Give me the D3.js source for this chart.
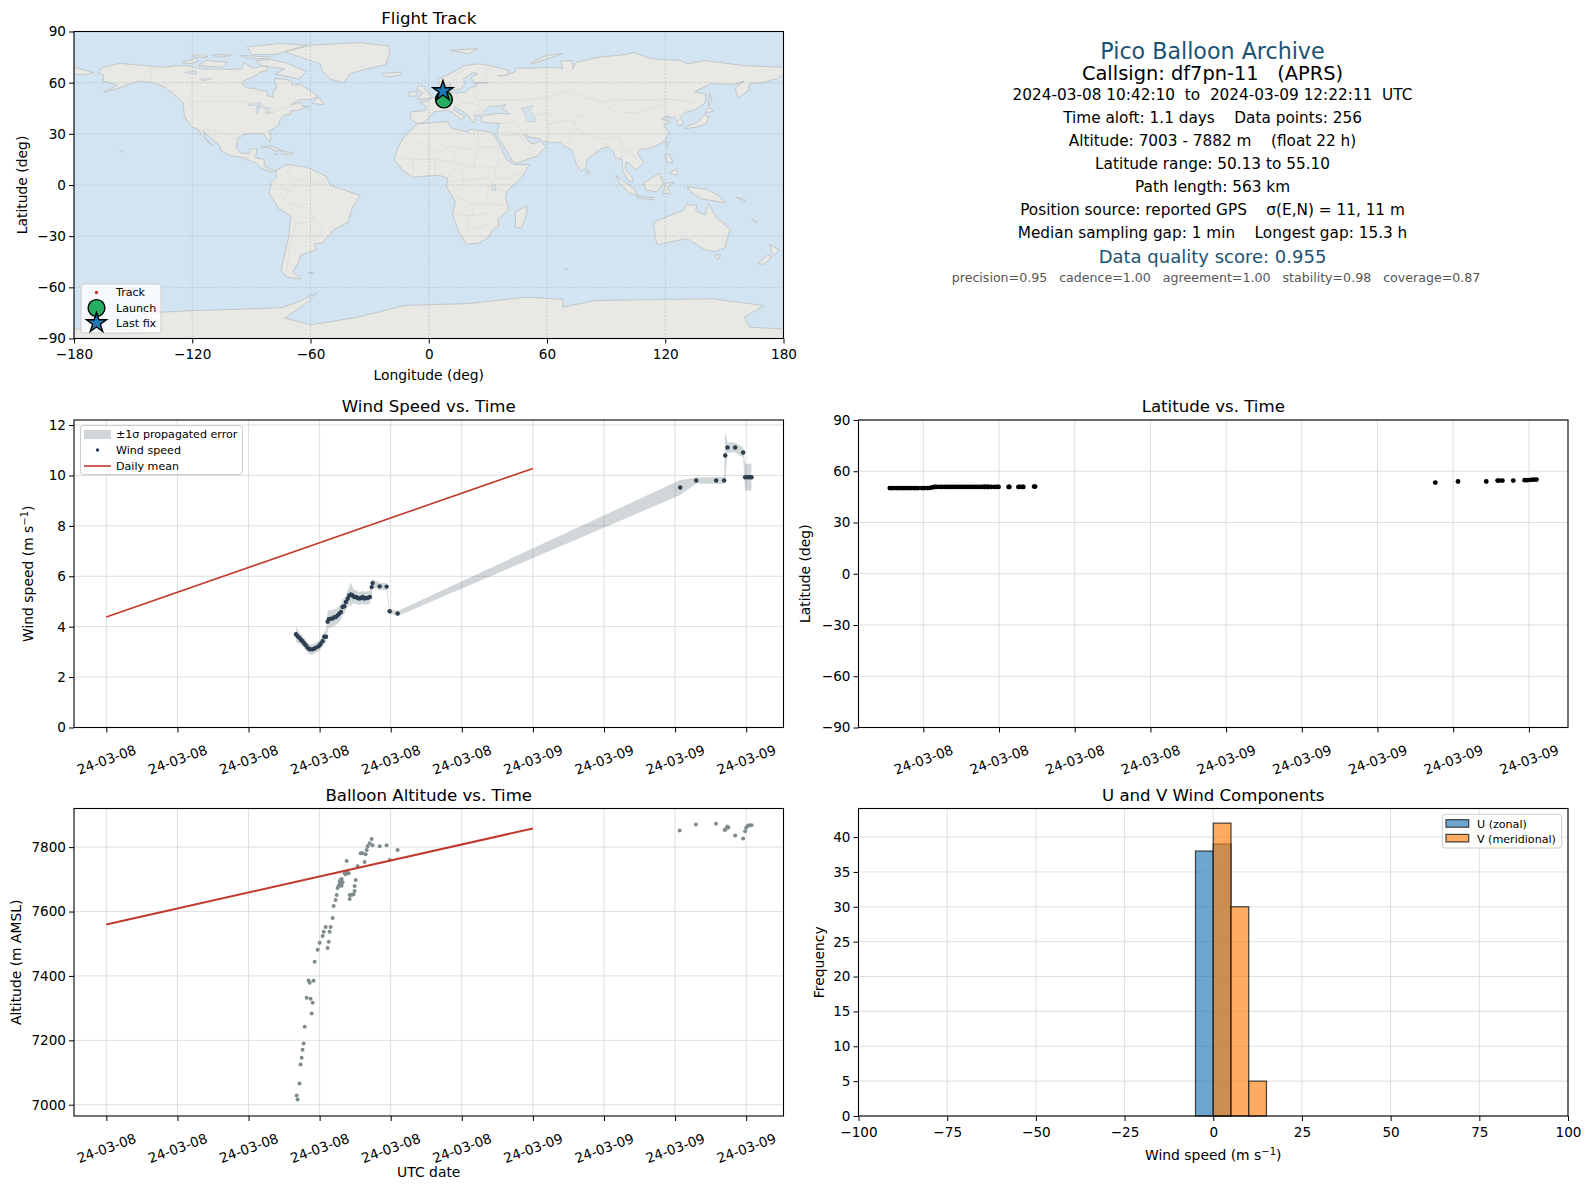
<!DOCTYPE html>
<html>

<head>
    <meta charset="utf-8">
    <title>Pico Balloon Archive</title>
    <style>
        body { margin: 0; background: #fff; }
        text { font-family: "DejaVu Sans", sans-serif; fill: #000; white-space: pre; }
    </style>
    <script src="https://d3js.org/d3.v7.min.js"></script>
</head>

<body>
</body>
<script>
// hours since 2024-03-08 00:00 UTC
var fixHours = [10.67, 10.76, 10.86, 10.95, 11.04, 11.14, 11.23, 11.32, 11.42, 11.51, 11.61, 11.70, 11.79, 11.94, 12.04, 12.17, 12.26, 12.36, 12.45, 12.51, 12.64, 12.73, 12.83, 12.92, 13.01, 13.11, 13.20, 13.29, 13.39, 13.48, 13.58, 13.67, 13.76, 13.86, 13.95, 14.05, 14.14, 14.23, 14.33, 14.42, 14.51, 14.61, 14.70, 14.83, 14.93, 14.98, 15.38, 15.77, 15.94, 16.39, 32.29, 33.19, 34.31, 34.76, 34.82, 34.95, 35.38, 35.83, 35.94, 36.08, 36.19, 36.30];
var windSpeed = [3.70, 3.62, 3.56, 3.48, 3.42, 3.33, 3.26, 3.17, 3.11, 3.10, 3.10, 3.13, 3.17, 3.22, 3.30, 3.42, 3.60, 3.60, 4.20, 4.30, 4.32, 4.32, 4.38, 4.38, 4.45, 4.52, 4.58, 4.78, 4.81, 4.98, 5.11, 5.24, 5.28, 5.24, 5.18, 5.18, 5.14, 5.12, 5.14, 5.18, 5.12, 5.14, 5.14, 5.18, 5.57, 5.73, 5.60, 5.59, 4.61, 4.52, 9.52, 9.80, 9.80, 9.80, 10.79, 11.11, 11.11, 10.91, 9.93, 9.93, 9.93, 9.93];
var windError = [0.32, 0.26, 0.24, 0.22, 0.21, 0.2, 0.2, 0.2, 0.2, 0.2, 0.2, 0.2, 0.2, 0.2, 0.2, 0.22, 0.22, 0.22, 0.40, 0.35, 0.34, 0.34, 0.33, 0.33, 0.32, 0.32, 0.31, 0.31, 0.31, 0.31, 0.32, 0.35, 0.48, 0.32, 0.28, 0.27, 0.27, 0.26, 0.26, 0.26, 0.26, 0.26, 0.26, 0.26, 0.26, 0.16, 0.14, 0.14, 0.1, 0.1, 0.30, 0.12, 0.13, 0.14, 0.98, 0.20, 0.20, 0.20, 0.53, 0.53, 0.53, 0.53];
var latitude = [50.13, 50.13, 50.13, 50.13, 50.13, 50.13, 50.13, 50.13, 50.13, 50.13, 50.13, 50.14, 50.15, 50.15, 50.15, 50.15, 50.3, 50.55, 50.8, 50.8, 50.8, 50.8, 50.8, 50.8, 50.8, 50.85, 50.85, 50.85, 50.85, 50.85, 50.85, 50.85, 50.85, 50.85, 50.85, 50.85, 50.85, 50.85, 50.85, 50.85, 50.85, 50.85, 50.85, 50.85, 50.85, 50.85, 50.85, 50.85, 50.85, 51.05, 53.4, 54.0, 54.0, 54.55, 54.55, 54.55, 54.55, 54.75, 54.75, 55.0, 55.05, 55.10];
var extraLatHours = [14.42, 14.55, 15.41, 15.83, 15.96, 16.43];
var extraLat = [50.85, 50.85, 50.85, 50.85, 50.85, 51.05];

var altHours = [10.71, 10.76, 10.87, 10.93, 10.99, 11.04, 11.10, 11.16, 11.55, 11.61, 11.49, 11.27, 11.38, 11.44, 11.66, 11.72, 11.89, 12.00, 12.17, 12.23, 12.34, 12.62, 12.56, 12.51, 12.45, 12.73, 12.79, 12.90, 12.96, 13.01, 13.07, 13.13, 13.13, 13.18, 13.24, 13.18, 13.29, 13.24, 13.41, 13.46, 13.52, 13.63, 13.52, 13.69, 13.69, 13.80, 13.91, 13.97, 13.97, 14.03, 14.14, 14.31, 14.42, 14.53, 14.59, 14.65, 14.70, 14.81, 14.93, 14.98, 15.38, 15.77, 15.94, 16.39, 32.26, 33.17, 34.30, 34.79, 34.85, 34.94, 35.00, 35.38, 35.83, 35.94, 36.00, 36.08, 36.17, 36.30];
var altitude = [7029, 7016, 7066, 7125, 7146, 7171, 7190, 7242, 7283, 7317, 7329, 7332, 7386, 7379, 7385, 7444, 7481, 7503, 7524, 7537, 7552, 7552, 7537, 7506, 7487, 7580, 7617, 7636, 7651, 7673, 7679, 7685, 7694, 7698, 7701, 7683, 7691, 7680, 7719, 7716, 7724, 7719, 7757, 7639, 7651, 7651, 7654, 7664, 7679, 7698, 7741, 7781, 7781, 7754, 7778, 7791, 7803, 7812, 7825, 7806, 7803, 7806, 7760, 7791, 7852, 7870, 7873, 7853, 7856, 7864, 7861, 7836, 7827, 7849, 7860, 7866, 7868, 7868];

var meanHours = [0, 24];
var meanWind = [4.38, 10.28];
var meanAlt = [7560, 7858];

var histBinStart = [-5, 0, 5, 10];
var histBinWidth = 5;
var histU = [38, 39, 0, 0];
var histV = [0, 42, 30, 5];

var trackLon = [7.7, 7.6, 7.4, 7.2];
var trackLat = [50.13, 50.85, 54.0, 55.10];

var wideTickHours = [0, 4, 8, 12, 16, 20, 24, 28, 32, 36];
var latTickHours = [12, 15, 18, 21, 24, 27, 30, 33, 36];
var lonTicks = [-180, -120, -60, 0, 60, 120, 180];
var latTicks = [-90, -60, -30, 0, 30, 60, 90];

var infoLines = [
    "2024-03-08 10:42:10  to  2024-03-09 12:22:11  UTC",
    "Time aloft: 1.1 days    Data points: 256",
    "Altitude: 7003 - 7882 m    (float 22 h)",
    "Latitude range: 50.13 to 55.10",
    "Path length: 563 km",
    "Position source: reported GPS    \u03c3(E,N) = 11, 11 m",
    "Median sampling gap: 1 min    Longest gap: 15.3 h"
];

// coastlines, lon/lat
var landPolys = [
    [[-168,66],[-166,68.5],[-161,70.3],[-156.5,71.3],[-148,70.4],[-141,69.7],[-135,69],[-128,70],[-122,69.8],[-115,68],[-108,68],[-102,67.8],[-95,68],[-94,72],[-90,69],[-88,68.5],[-85,69.7],[-82,69.5],[-82,67],[-86,66],[-88,64],[-94,61],[-94.5,59],[-92.5,57],[-88,56.5],[-85,55.3],[-82,55],[-82,52.5],[-79,51.5],[-79,55],[-77,57],[-78,60],[-78,62.5],[-73,62],[-70,61],[-69,58.5],[-65,59],[-61,56],[-56,52],[-60,50],[-66,50],[-70,47],[-65,48.5],[-64,46],[-61,46],[-66,44],[-70,43.5],[-70,41.7],[-74,40.5],[-76,37],[-76,35],[-81,31.5],[-80,27],[-80.5,25.2],[-82.5,28],[-84,30],[-89,30.3],[-94,29.5],[-97,27.5],[-97.7,22],[-95.5,18.7],[-91,18.5],[-90.5,21],[-87,21.5],[-88,16],[-83.5,15],[-83.5,11],[-80,9],[-77.5,8.5],[-80,7.5],[-85,10],[-88,13],[-94,16],[-100,17],[-105.5,20],[-106,23],[-112,29],[-114.5,31.5],[-113,27],[-109.5,23],[-112,25],[-115,29],[-117,32.5],[-120.5,34.5],[-124,40],[-124.5,48],[-130,54],[-135,58],[-140,60],[-147,61],[-152,59],[-158,56.5],[-165,54.5],[-158,58.5],[-165,61],[-165,64.5]],
    [[-73,78],[-60,82],[-35,83.5],[-20,81.5],[-20,76],[-22,70.5],[-32,68],[-40,65],[-43,60],[-50,62],[-54,67],[-55,71],[-68,76]],
    [[-80,73.5],[-72,71.5],[-62,66.5],[-66,62],[-73,64],[-78,65],[-73,68],[-85,70],[-88,73]],
    [[-117,70],[-105,69],[-102,72],[-113,73]],
    [[-125,72],[-118,74.5],[-117,72.5],[-122,71]],
    [[-90,76.5],[-78,76.5],[-62,82],[-75,83],[-92,81]],
    [[-96,76],[-80,75],[-82,74],[-92,74.5]],
    [[-110,76],[-105,76.5],[-100,76],[-106,75]],
    [[-120,76],[-115,76.5],[-112,75],[-118,74.8]],
    [[-59,47.8],[-53,47],[-56,51.5]],
    [[-85,22],[-80,23],[-74,20],[-77.5,20],[-82,22.3]],
    [[-74,19.8],[-68.5,18.5],[-71,17.8],[-74,18.2]],
    [[-78.3,18.4],[-76.3,18.1],[-77.5,17.8]],
    [[-156,20.2],[-155,19.7],[-155.7,19]],
    [[-159.6,22.2],[-159.3,22],[-159.5,21.8]],
    [[-61,-51.3],[-58,-51.4],[-59,-52.3]],
    [[69,-48.9],[70.5,-49.2],[69.5,-49.7]],
    [[164,-20],[167,-22],[165.5,-22]],
    [[156,-7],[161,-9],[160,-10]],
    [[-24,65.5],[-14,66],[-14,64.5],[-20,63.4],[-22.5,64]],
    [[-5.5,50],[1,51],[1.5,52.8],[-2,56],[-2,57.5],[-5,58.6],[-6,56],[-3,54],[-5,52]],
    [[-10,52],[-6,52.2],[-6,55],[-10,54.3]],
    [[11,79],[25,80],[20,77]],
    [[52,71],[68,77],[60,76],[54,73]],
    [[-9.5,38.7],[-9,43],[-2,43.5],[-1,46],[-4.5,48.5],[-1.5,49],[2,51],[4,52],[8,54],[8.5,57],[10.5,57.5],[10,54.5],[14,54],[19,54.5],[21,57],[24,58],[23.5,59.5],[30,60],[23,60],[21.5,63],[25,65.5],[22,65.8],[17.5,62],[18.5,60],[16.5,56.5],[14,55.5],[12.5,56],[11,59],[8,58],[5,59],[5,62],[12,66],[18,70],[25,71],[31,70],[41,67],[40,64.5],[35,64],[38,64],[44,66.5],[44,68.5],[54,68.5],[60,69],[68,68.5],[67,72.5],[73,73],[73,68],[75,72],[81,73.5],[87,75],[100,76.5],[104,77.7],[113,74],[128,73],[131,71],[140,73],[160,70],[170,69.5],[180,69],[180,65],[177,62.5],[170,60],[163,59.5],[162,55],[157,51],[155.5,57],[160,61],[155,59],[143,59.3],[135,54.7],[141,53],[140,48],[135,44],[130,42.5],[127.5,39.5],[129.5,36],[126.5,34.5],[126,37.5],[124.5,40],[121,39],[122,40.5],[118,39],[122.5,37],[119,35],[122,31],[120,26],[115,22.7],[110,21],[107,21],[106,18.5],[109,13],[107,10.5],[105,8.8],[102,12.5],[100,13.5],[100,9],[103.5,4],[103.5,1.3],[101,3],[98.5,8],[98,15],[94.5,16],[94,19],[91,22.5],[87,21],[82,16.5],[80,15],[80,11],[77.5,8],[75,12],[73,19],[72,21],[69,22.5],[67,25],[61,25],[57,26],[56.5,27],[51,28],[48.5,30],[51,25],[54,24],[56.3,26],[59.5,22.5],[55,17],[45,13],[43,13],[39,21],[35,28],[34.5,31],[36,36],[30,36.5],[27,37],[26.5,40],[29,41],[35,42],[41.5,41.5],[37,45],[39,47],[33,46],[31,46.5],[28,43],[26,40.7],[23,40.5],[24,38],[22.5,36.5],[19.5,41.5],[13.5,45.5],[12.5,44],[18.5,40],[16,38],[15,40],[10,44],[6,43.2],[3,43],[0,39.5],[-2,36.8],[-5.5,36]],
    [[-180,69],[-175,67.5],[-170,66],[-175,64.5],[-180,65]],
    [[-6,35.8],[10,37.3],[11,33.5],[20,31],[20,32.8],[32,31],[34,28],[37,21],[39.5,15],[43,12],[51,12],[47,4],[40,-3],[39,-7],[40.5,-15],[35,-20],[35.5,-24],[32.5,-26],[30,-31],[25.5,-34],[19,-34.8],[15,-27],[12,-17],[13.5,-10],[9,-1],[9.5,4],[5,5.8],[-4,5],[-8,4.5],[-13,8.5],[-17.5,14.7],[-16,21],[-13,27.5],[-9.5,32]],
    [[-77.5,8.5],[-72,12],[-62,10.5],[-52,5],[-50,0],[-44,-2.5],[-35,-6],[-39,-14],[-41,-22],[-48,-26],[-54,-34],[-58,-34.5],[-57,-38],[-65,-41],[-66,-45],[-69,-51],[-65,-55],[-72,-54],[-75,-50],[-73,-40],[-71,-30],[-70,-18],[-76,-14],[-81,-5],[-80,1],[-77.5,4]],
    [[114,-22],[122,-18],[129,-15],[131,-11.5],[136,-12],[135.5,-15],[140,-17.5],[142,-11],[146,-19],[153,-26],[150,-37],[145,-39],[140,-38],[136,-35],[131,-31.5],[124,-33],[116,-35],[115,-31]],
    [[145,-41],[148,-41],[147,-43.5],[146,-43.5]],
    [[173,-35],[178,-38],[175,-41.5],[174,-39]],
    [[172,-41],[174,-42],[170,-46.5],[167,-46]],
    [[131,-1],[141,-2.5],[147,-6],[150.5,-10.5],[143,-9],[138,-8],[133,-4]],
    [[109,1],[117,7],[119,1],[116,-4],[110,-3]],
    [[95,5.5],[104,-2],[106,-6],[102,-5],[97,1]],
    [[105,-6.5],[114.5,-7.5],[114,-8.7],[106,-7.5]],
    [[119,-5],[120,1],[125,1.5],[121,-1],[122.5,-5]],
    [[120,18],[122,18],[124,13],[121,13]],
    [[122,7],[126,9.5],[126,6],[123,6.5]],
    [[130,33],[136,34],[141,36],[142,40],[140,41],[136,36.5],[131,34.5]],
    [[140,42],[145,43.5],[142,45.5]],
    [[142,46],[143.5,50],[142.5,54],[142,50]],
    [[80,9.5],[82,7],[80.5,6]],
    [[120,25],[122,25],[121,22]],
    [[44,-16],[49.5,-12],[50,-16],[47,-25],[44,-25]],
    [[-180,-90],[-180,-84.4],[-145,-85],[-143,-75],[-118.7,-73.6],[-100,-73],[-75,-72],[-65,-68],[-57,-63.4],[-63,-70],[-73,-78],[-60,-82],[-36,-77.5],[-12,-70.6],[20,-69.5],[49,-65.8],[68,-67],[68,-71.6],[84.7,-67.7],[143.8,-66.7],[170,-70.7],[160,-77.5],[163,-83.4],[180,-84.4],[180,-90]]
];
var lakePolys = [
    [[47,45],[53,46.5],[51,44],[53.8,40],[54,37],[50,37.5],[49,41]],
    [[-92,47],[-85,48.5],[-85,46.7],[-90,46.6]],
    [[-87.5,45.5],[-85.5,46],[-86.5,42],[-87.7,42]],
    [[-84.5,46],[-80,45],[-82,43]],
    [[-83,42],[-79,43],[-79,42.5]],
    [[-124,66],[-118,67],[-118,65]],
    [[-116,62],[-110,62.5],[-115,60.8]],
    [[32,0],[34,0],[34,-3],[32,-3]]
];
var borderLines = [
    [[-123,49],[-95,49],[-89,48],[-83,46],[-82,42.5],[-76,44],[-70,46],[-67,47],[-67,45]],
    [[-141,69.7],[-141,60],[-130,55]],
    [[-117,32.5],[-106,31.7],[-97,26]],
    [[-92,14.5],[-91,18]],[[-89,16],[-88,18]],
    [[-70,12],[-72,7],[-67,2],[-70,-4],[-74,-8],[-70,-11],[-69,-17],[-67,-23],[-70,-33],[-71,-40],[-72,-50]],
    [[-60,8],[-60,1],[-52,2]],[[-67,2],[-60,5]],
    [[-80,-3],[-75,-1],[-70,-4]],
    [[-69,-11],[-60,-14],[-58,-20],[-55,-25],[-54,-28],[-57,-30],[-58,-34]],
    [[-67,-23],[-62,-22],[-58,-20]],
    [[-9,27],[-5,25],[4,19],[12,23],[25,20],[25,31]],
    [[25,22],[37,22]],[[12,23],[15,13],[23,10],[24,20]],
    [[-16,16],[-5,15],[4,15],[15,13]],[[-8,5],[-8,15]],[[3,6],[3,15]],[[9,4],[14,10]],
    [[23,10],[34,10],[36,15]],[[34,10],[34,4],[41,4],[48,8]],[[34,4],[30,-1],[30,-11],[22,-11],[13,-6]],
    [[30,-1],[40,-4]],[[30,-11],[35,-12],[40,-11]],[[22,-11],[22,-18],[12,-17]],[[22,-18],[33,-16]],[[20,-18],[20,-29],[16,-29]],[[20,-25],[26,-25],[32,-22]],
    [[10,2],[18,3],[30,4]],[[15,13],[18,3],[13,-5]],
    [[-1,43],[3,42.5]],[[-9,42],[-7,37]],[[2,51],[8,49],[7,46],[13,46.5],[19,48],[22,48],[28,45],[22,41],[26,41.5]],
    [[7,54],[7,50]],[[14,54],[14,51],[18,49]],[[23,54],[24,50],[22,48]],[[24,50],[40,50],[48,50],[60,51],[70,55],[80,51],[87,49],[98,50],[108,50],[117,50],[127,50],[135,48]],
    [[28,60],[30,65],[29,70]],[[12,60],[14,65],[20,69]],[[23,54],[28,56],[28,60]],
    [[87,49],[80,42],[74,39],[75,33],[79,30],[88,27],[97,28],[98,23],[102,21],[106,22]],
    [[87,49],[95,43],[105,42],[112,45],[120,47],[117,50]],
    [[53,41],[60,42],[66,37],[61,36],[61,25]],[[46,39],[44,37],[48,30]],[[44,37],[36,36]],[[39,32],[48,29]],[[36,29],[46,29],[52,20],[55,20]],
    [[61,36],[70,38],[74,37],[70,30],[67,25]],[[75,33],[70,24]],[[88,27],[92,22]],[[98,15],[98,23]],[[102,21],[105,16],[107,12]],[[100,20],[105,16]],[[124,40],[130,42.5]],[[125,38],[129,38.5]]
];

var svg = d3.select("body").append("svg")
    .attr("width", 1589)
    .attr("height", 1189)
    .style("display", "block");

var tickFont = 13.6, labelFont = 13.9, titleFont = 16.6;
var gridColor = "#dfdfdf";

function hourDate(h) {
    return new Date(Date.UTC(2024, 2, 8) + h * 3600000);
}
var fmtDate = d3.utcFormat("%y-%m-%d");
var fmtMinus = function(d) { return String(d).replace("-", "\u2212"); };

function makePanel(box) {
    return svg.append("g").attr("transform", "translate(" + box.left + "," + box.top + ")");
}

function drawFrame(g, box, x, y, xAxis, yAxis, rotate) {
    var w = box.right - box.left, h = box.bottom - box.top;
    var gx = g.append("g").attr("transform", "translate(0," + h + ")").call(xAxis);
    var gy = g.append("g").call(yAxis);
    gx.select(".domain").remove();
    gy.select(".domain").remove();
    [gx, gy].forEach(function(a) {
        a.selectAll("text").style("font-size", tickFont + "px").style("font-family", "'DejaVu Sans'").attr("fill", "#000");
        a.selectAll("line").attr("stroke", "#000").attr("stroke-width", 1);
    });
    if (rotate) {
        gx.selectAll("text")
            .attr("text-anchor", "middle")
            .attr("dy", null)
            .attr("y", 0)
            .attr("transform", "translate(0,33) rotate(-20)")
            .attr("dominant-baseline", "middle");
    }
    g.append("rect").attr("width", w).attr("height", h)
        .attr("fill", "none").attr("stroke", "#000").attr("stroke-width", 1.1);
}

function drawGrid(g, box, xVals, yVals, x, y, color, dash) {
    var w = box.right - box.left, h = box.bottom - box.top;
    var sel = g.append("g").attr("stroke", color).attr("stroke-width", 1);
    if (dash) sel.attr("stroke-dasharray", dash);
    sel.selectAll(".gx").data(xVals).enter().append("line")
        .attr("x1", x).attr("x2", x).attr("y1", 0).attr("y2", h);
    sel.selectAll(".gy").data(yVals).enter().append("line")
        .attr("y1", y).attr("y2", y).attr("x1", 0).attr("x2", w);
}

function title(box, s) {
    svg.append("text").attr("x", (box.left + box.right) / 2).attr("y", box.top - 8)
        .attr("text-anchor", "middle").style("font-size", titleFont + "px").text(s);
}
function xLabel(box, s, yy) {
    var t = svg.append("text").attr("x", (box.left + box.right) / 2).attr("y", yy)
        .attr("text-anchor", "middle").style("font-size", labelFont + "px");
    addUnits(t, s);
}
function yLabel(box, s, xx) {
    var t = svg.append("text")
        .attr("transform", "translate(" + xx + "," + (box.top + box.bottom) / 2 + ") rotate(-90)")
        .attr("text-anchor", "middle").style("font-size", labelFont + "px");
    addUnits(t, s);
}
// "^" marks the superscript part, closed by ")"
function addUnits(t, s) {
    var parts = s.split("^");
    if (parts.length == 1) { t.text(s); return; }
    t.append("tspan").text(parts[0]);
    t.append("tspan").attr("dy", -5).style("font-size", "10px").text("\u22121");
    t.append("tspan").attr("dy", 5).text(")");
}

function legendBox(x, y, w, h) {
    svg.append("rect").attr("x", x).attr("y", y).attr("width", w).attr("height", h).attr("rx", 3)
        .attr("fill", "#fff").attr("fill-opacity", 0.8).attr("stroke", "#ccc").attr("stroke-width", 1);
}
function legendText(x, y, s) {
    svg.append("text").attr("x", x).attr("y", y).attr("dominant-baseline", "central")
        .style("font-size", "11.1px").text(s);
}

var mapBox = {left: 74, right: 783.5, top: 31.5, bottom: 338.5};
var windBox = {left: 74, right: 783.5, top: 420, bottom: 727.5};
var altBox = {left: 74, right: 783.5, top: 808.5, bottom: 1116};
var latBox = {left: 858.5, right: 1568, top: 420, bottom: 727.5};
var histBox = {left: 858.5, right: 1568, top: 808.5, bottom: 1116};

// ---- map
(function() {
    var box = mapBox, g = makePanel(box);
    var w = box.right - box.left, h = box.bottom - box.top;
    var x = d3.scaleLinear().domain([-180, 180]).range([0, w]);
    var y = d3.scaleLinear().domain([-90, 90]).range([h, 0]);
    var line = d3.line().x(function(d) { return x(d[0]); }).y(function(d) { return y(d[1]); });
    g.append("rect").attr("width", w).attr("height", h).attr("fill", "#d2e4f1");
    g.selectAll(".land").data(landPolys).enter().append("path")
        .attr("d", function(d) { return line(d) + "Z"; })
        .attr("fill", "#e8e8e4").attr("stroke", "#c3c7c9").attr("stroke-width", 1).attr("stroke-linejoin", "round");
    g.selectAll(".lake").data(lakePolys).enter().append("path")
        .attr("d", function(d) { return line(d) + "Z"; })
        .attr("fill", "#d2e4f1").attr("stroke", "#c3c7c9").attr("stroke-width", 0.7);
    g.selectAll(".border").data(borderLines).enter().append("path")
        .attr("d", line).attr("fill", "none").attr("stroke", "#dcdcd8").attr("stroke-width", 0.8);
    drawGrid(g, box, lonTicks, latTicks, x, y, "rgba(160,170,175,0.45)", "2,1.5");
    g.selectAll(".trk").data(trackLon).enter().append("circle")
        .attr("cx", function(d) { return x(d); })
        .attr("cy", function(d, i) { return y(trackLat[i]); })
        .attr("r", 1.7).attr("fill", "#c0392b");
    g.append("circle").attr("cx", x(trackLon[0])).attr("cy", y(trackLat[0])).attr("r", 8.4)
        .attr("fill", "#27ae60").attr("stroke", "#000").attr("stroke-width", 1.4);
    g.append("path").attr("d", d3.symbol().type(d3.symbolStar).size(125)())
        .attr("transform", "translate(" + x(trackLon[3]) + "," + y(trackLat[3]) + ")")
        .attr("fill", "#1f77b4").attr("stroke", "#000").attr("stroke-width", 1.4);
    var xa = d3.axisBottom(x).tickValues(lonTicks).tickSize(5).tickPadding(6).tickFormat(fmtMinus);
    var ya = d3.axisLeft(y).tickValues(latTicks).tickSize(5).tickPadding(3).tickFormat(fmtMinus);
    drawFrame(g, box, x, y, xa, ya, false);
    title(box, "Flight Track");
    xLabel(box, "Longitude (deg)", 380);
    yLabel(box, "Latitude (deg)", 27);

    legendBox(81, 284, 80, 49);
    svg.append("circle").attr("cx", 96.5).attr("cy", 292.5).attr("r", 1.7).attr("fill", "#c0392b");
    svg.append("circle").attr("cx", 96.5).attr("cy", 308).attr("r", 8.4).attr("fill", "#27ae60").attr("stroke", "#000").attr("stroke-width", 1.4);
    svg.append("path").attr("d", d3.symbol().type(d3.symbolStar).size(125)())
        .attr("transform", "translate(96.5,323)").attr("fill", "#1f77b4").attr("stroke", "#000").attr("stroke-width", 1.4);
    legendText(116, 292.5, "Track");
    legendText(116, 308, "Launch");
    legendText(116, 323, "Last fix");
})();

// ---- text block
(function() {
    var cx = 1212.5;
    function line(s, yy, size, color, xx) {
        svg.append("text").attr("x", xx || cx).attr("y", yy).attr("text-anchor", "middle")
            .style("font-size", size + "px").style("fill", color).text(s);
    }
    line("Pico Balloon Archive", 59, 22.2, "#1a5276");
    line("Callsign: df7pn-11   (APRS)", 80, 19.4, "#000");
    var ys = [99.5, 122.5, 145.5, 168.5, 191.5, 214.5, 237.5];
    infoLines.forEach(function(s, i) { line(s, ys[i], 15.3, "#000"); });
    line("Data quality score: 0.955", 263, 18, "#1a5276");
    line("precision=0.95   cadence=1.00   agreement=1.00   stability=0.98   coverage=0.87", 282, 12.6, "#555", 1216);
})();

// ---- wind speed
(function() {
    var box = windBox, g = makePanel(box);
    var w = box.right - box.left, h = box.bottom - box.top;
    var x = d3.scaleUtc().domain([hourDate(-1.82), hourDate(38.1)]).range([0, w]);
    var y = d3.scaleLinear().domain([0, 12.2]).range([h, 0]);
    var gridDates = wideTickHours.map(hourDate);
    drawGrid(g, box, gridDates, [0, 2, 4, 6, 8, 10, 12], x, y, gridColor);
    var area = d3.area()
        .x(function(d) { return x(hourDate(d)); })
        .y0(function(d, i) { return y(windSpeed[i] - windError[i]); })
        .y1(function(d, i) { return y(windSpeed[i] + windError[i]); });
    g.append("path").attr("d", area(fixHours)).attr("fill", "#2c4a52").attr("fill-opacity", 0.22);
    g.selectAll(".pt").data(fixHours).enter().append("circle")
        .attr("cx", function(d) { return x(hourDate(d)); })
        .attr("cy", function(d, i) { return y(windSpeed[i]); })
        .attr("r", 2.2).attr("fill", "#2c3e50");
    g.append("path").attr("d", d3.line()
            .x(function(d) { return x(hourDate(d)); })
            .y(function(d, i) { return y(meanWind[i]); })(meanHours))
        .attr("fill", "none").attr("stroke", "#c0392b").attr("stroke-width", 1.6);
    var xa = d3.axisBottom(x).tickValues(gridDates).tickSize(5).tickFormat(fmtDate);
    var ya = d3.axisLeft(y).tickValues([0, 2, 4, 6, 8, 10, 12]).tickSize(5).tickPadding(3);
    drawFrame(g, box, x, y, xa, ya, true);
    title(box, "Wind Speed vs. Time");
    yLabel(box, "Wind speed (m s^", 33);

    legendBox(80.5, 425.5, 162, 49);
    svg.append("rect").attr("x", 84).attr("y", 430).attr("width", 27).attr("height", 9).attr("fill", "#2c4a52").attr("fill-opacity", 0.22);
    svg.append("circle").attr("cx", 97.5).attr("cy", 450).attr("r", 1.7).attr("fill", "#2c3e50");
    svg.append("line").attr("x1", 84).attr("x2", 111).attr("y1", 466).attr("y2", 466).attr("stroke", "#c0392b").attr("stroke-width", 1.6);
    legendText(116, 434.5, "\u00b11\u03c3 propagated error");
    legendText(116, 450, "Wind speed");
    legendText(116, 466, "Daily mean");
})();

// ---- latitude
(function() {
    var box = latBox, g = makePanel(box);
    var w = box.right - box.left, h = box.bottom - box.top;
    var x = d3.scaleUtc().domain([hourDate(9.43), hourDate(37.55)]).range([0, w]);
    var y = d3.scaleLinear().domain([-90, 90]).range([h, 0]);
    var gridDates = latTickHours.map(hourDate);
    drawGrid(g, box, gridDates, latTicks, x, y, gridColor);
    var pts = fixHours.map(function(d, i) { return [d, latitude[i]]; })
        .concat(extraLatHours.map(function(d, i) { return [d, extraLat[i]]; }));
    g.selectAll(".pt").data(pts).enter().append("circle")
        .attr("cx", function(d) { return x(hourDate(d[0])); })
        .attr("cy", function(d) { return y(d[1]); })
        .attr("r", 2.4).attr("fill", "#000");
    var xa = d3.axisBottom(x).tickValues(gridDates).tickSize(5).tickFormat(fmtDate);
    var ya = d3.axisLeft(y).tickValues(latTicks).tickSize(5).tickPadding(3).tickFormat(fmtMinus);
    drawFrame(g, box, x, y, xa, ya, true);
    title(box, "Latitude vs. Time");
    yLabel(box, "Latitude (deg)", 810);
})();

// ---- altitude
(function() {
    var box = altBox, g = makePanel(box);
    var w = box.right - box.left, h = box.bottom - box.top;
    var x = d3.scaleUtc().domain([hourDate(-1.82), hourDate(38.1)]).range([0, w]);
    var y = d3.scaleLinear().domain([6965, 7920]).range([h, 0]);
    var gridDates = wideTickHours.map(hourDate);
    var altTicks = [7000, 7200, 7400, 7600, 7800];
    drawGrid(g, box, gridDates, altTicks, x, y, gridColor);
    g.selectAll(".pt").data(altHours).enter().append("circle")
        .attr("cx", function(d) { return x(hourDate(d)); })
        .attr("cy", function(d, i) { return y(altitude[i]); })
        .attr("r", 2).attr("fill", "#7f8c8d");
    g.append("path").attr("d", d3.line()
            .x(function(d) { return x(hourDate(d)); })
            .y(function(d, i) { return y(meanAlt[i]); })(meanHours))
        .attr("fill", "none").attr("stroke", "#c0392b").attr("stroke-width", 2);
    var xa = d3.axisBottom(x).tickValues(gridDates).tickSize(5).tickFormat(fmtDate);
    var ya = d3.axisLeft(y).tickValues(altTicks).tickSize(5).tickPadding(3).tickFormat(d3.format("d"));
    drawFrame(g, box, x, y, xa, ya, true);
    title(box, "Balloon Altitude vs. Time");
    xLabel(box, "UTC date", 1177);
    yLabel(box, "Altitude (m AMSL)", 21);
})();

// ---- histogram
(function() {
    var box = histBox, g = makePanel(box);
    var w = box.right - box.left, h = box.bottom - box.top;
    var x = d3.scaleLinear().domain([-100, 100]).range([0, w]);
    var y = d3.scaleLinear().domain([0, 44.1]).range([h, 0]);
    var xTicks = [-100, -75, -50, -25, 0, 25, 50, 75, 100];
    var yTicks = [0, 5, 10, 15, 20, 25, 30, 35, 40];
    drawGrid(g, box, xTicks, yTicks, x, y, gridColor);
    function bars(vals, color) {
        g.selectAll(".b" + color.slice(1)).data(histBinStart).enter().append("rect")
            .filter(function(d, i) { return vals[i] > 0; })
            .attr("x", function(d) { return x(d); })
            .attr("width", x(histBinWidth) - x(0))
            .attr("y", function(d) { return y(vals[histBinStart.indexOf(d)]); })
            .attr("height", function(d) { return y(0) - y(vals[histBinStart.indexOf(d)]); })
            .attr("fill", color).attr("fill-opacity", 0.65)
            .attr("stroke", "#222").attr("stroke-opacity", 0.85).attr("stroke-width", 1.2);
    }
    bars(histU, "#1f77b4");
    bars(histV, "#ff7f0e");
    drawFrame(g, box,
        x, y,
        d3.axisBottom(x).tickValues(xTicks).tickSize(5).tickPadding(6).tickFormat(fmtMinus),
        d3.axisLeft(y).tickValues(yTicks).tickSize(5).tickPadding(3), false);
    title(box, "U and V Wind Components");
    xLabel(box, "Wind speed (m s^", 1160);
    yLabel(box, "Frequency", 824);

    legendBox(1442.3, 814.3, 119.4, 33.7);
    svg.append("rect").attr("x", 1446).attr("y", 819.7).attr("width", 22.7).attr("height", 7.5).attr("fill", "#1f77b4").attr("fill-opacity", 0.65).attr("stroke", "#222").attr("stroke-opacity", 0.85).attr("stroke-width", 1.2);
    svg.append("rect").attr("x", 1446).attr("y", 834.4).attr("width", 22.7).attr("height", 7.5).attr("fill", "#ff7f0e").attr("fill-opacity", 0.65).attr("stroke", "#222").attr("stroke-opacity", 0.85).attr("stroke-width", 1.2);
    legendText(1477, 824, "U (zonal)");
    legendText(1477, 839.5, "V (meridional)");
})();
</script>

</html>
